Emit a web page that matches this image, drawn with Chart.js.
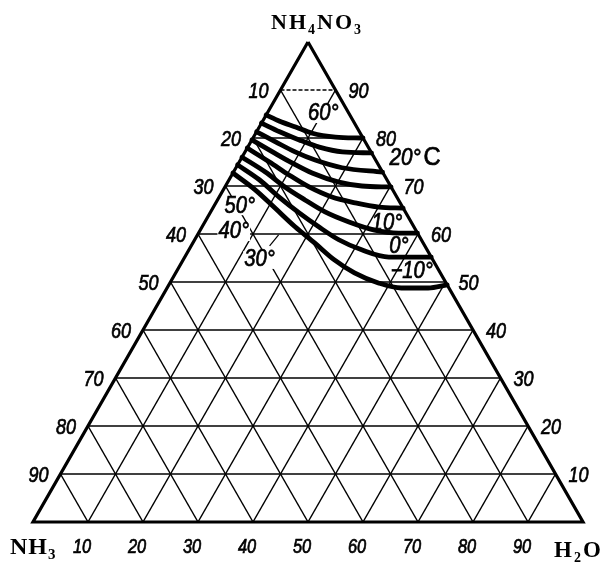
<!DOCTYPE html>
<html><head><meta charset="utf-8">
<script src="https://cdn.jsdelivr.net/npm/chart.js@4.4.1/dist/chart.umd.min.js"></script>
<style>html,body{margin:0;padding:0;background:#fff}#wrap{width:609px;height:562px;position:relative}</style>
</head><body><div id="wrap"><canvas id="c"></canvas></div>
<script>
// ---- data (percent by mass) ----
const tickValues = [10, 20, 30, 40, 50, 60, 70, 80, 90];
const isotherms = ['60°', '50°', '40°', '30°', '20°', '10°', '0°', '−10°'];
// each isotherm: NH4NO3 % and H2O % (NH3 % = 100 - both)
const nh4no3_60 = [84.8, 83.5, 82.3, 81.0, 80.2, 80.0];
const h2o_60    = [0, 3.1, 6.6, 10.3, 14.9, 20.0];
const nh4no3_50 = [83.1, 81.3, 79.6, 78.1, 77.1, 76.9];
const h2o_50    = [0, 4.2, 8.6, 13.0, 17.7, 23.1];
const nh4no3_40 = [81.3, 79.2, 77.1, 75.4, 73.8, 72.9];
const h2o_40    = [0, 4.5, 9.1, 13.6, 19.3, 27.1];
const nh4no3_30 = [79.6, 77.1, 74.8, 72.7, 70.8, 70.0, 69.8];
const h2o_30    = [0, 5.0, 9.7, 14.4, 20.2, 24.8, 30.2];
const nh4no3_20 = [77.9, 75.0, 72.3, 69.8, 67.7, 66.5, 65.6, 65.4];
const h2o_20    = [0, 5.5, 10.4, 15.3, 20.5, 25.3, 30.1, 34.6];
const nh4no3_10 = [76.0, 72.9, 69.8, 67.1, 64.6, 62.5, 60.8, 60.2, 60.2];
const h2o_10    = [0, 5.8, 10.9, 15.9, 20.8, 26.2, 31.7, 36.4, 39.8];
const nh4no3_0  = [74.4, 71.3, 67.7, 64.4, 61.5, 58.8, 56.7, 55.2, 55.2];
const h2o_0     = [0, 5.5, 10.9, 16.2, 21.2, 26.2, 31.4, 37.1, 44.8];
const nh4no3_m10 = [72.7, 69.2, 65.4, 61.5, 58.1, 54.6, 51.9, 49.8, 48.75, 48.75, 49.4];
const h2o_m10    = [0, 5.8, 11.3, 16.9, 22.2, 27.5, 32.5, 37.9, 42.6, 47.5, 50.6];
// isotherm label anchors (ternary composition of the label centre)
const isoLabelNH4NO3 = [85.0, 65.8, 60.4, 54.6, 75.8, 62.1, 57.3, 52.1];
const isoLabelH2O    = [10.3, 4.7, 6.3, 13.9, 31.4, 33.3, 37.9, 42.8];

const curvesA = [nh4no3_60, nh4no3_50, nh4no3_40, nh4no3_30, nh4no3_20, nh4no3_10, nh4no3_0, nh4no3_m10];
const curvesC = [h2o_60, h2o_50, h2o_40, h2o_30, h2o_20, h2o_10, h2o_0, h2o_m10];

const H = Math.sqrt(3) / 2;
function tern(a, c) { return { x: c / 100 + a / 200, y: a / 100 * H }; }

const datasets = [];
curvesA.forEach((arr, i) => {
  datasets.push({
    data: arr.map((a, j) => tern(a, curvesC[i][j])),
    showLine: true, borderColor: '#000', borderWidth: 4.8, pointRadius: 0,
    tension: 0.4, cubicInterpolationMode: 'monotone', clip: false, borderCapStyle: 'round'
  });
});
// triangle frame
datasets.push({
  data: [tern(100, 0), tern(0, 0), tern(0, 100), tern(100, 0)],
  showLine: true, borderColor: '#000', borderWidth: 3.2, pointRadius: 0, clip: false,
  borderJoinStyle: 'miter'
});
// grid
tickValues.forEach(v => {
  datasets.push({ data: [tern(v, 0), tern(v, 100 - v)], showLine: true, borderColor: '#000',
    borderWidth: 1.5, pointRadius: 0, clip: false, borderDash: v === 90 ? [4, 2] : [] });
  datasets.push({ data: [tern(0, v), tern(100 - v, v)], showLine: true, borderColor: '#000',
    borderWidth: 1.5, pointRadius: 0, clip: false });
  datasets.push({ data: [tern(100 - v, 0), tern(0, 100 - v)], showLine: true, borderColor: '#000',
    borderWidth: 1.5, pointRadius: 0, clip: false });
});

function txt(ctx, s, x, y, font, sx, bg) {
  ctx.save();
  ctx.font = font; ctx.textAlign = 'center'; ctx.textBaseline = 'middle';
  if (bg) {
    const w = ctx.measureText(s).width * sx;
    ctx.fillStyle = '#fff';
    ctx.fillRect(x - w / 2 - 1, y - 9, w + 2, 18);
  }
  ctx.translate(x, y); ctx.scale(sx, 1);
  ctx.fillStyle = '#000'; ctx.strokeStyle = '#000'; ctx.lineWidth = 0.7;
  ctx.fillText(s, 0, 0);
  ctx.strokeText(s, 0, 0);
  ctx.restore();
}
function chem(ctx, parts, x, y, size, spacing) {
  ctx.save();
  ctx.fillStyle = '#000'; ctx.textBaseline = 'alphabetic'; ctx.textAlign = 'left';
  let cx = x;
  parts.forEach(([s, sub]) => {
    for (const ch of s) {
      ctx.font = 'bold ' + (sub ? Math.round(size * 0.62) : size) + 'px "Liberation Serif"';
      ctx.fillText(ch, cx, sub ? y + size * 0.22 : y);
      cx += ctx.measureText(ch).width + spacing;
    }
  });
  ctx.restore();
}

const labels = {
  id: 'labels',
  afterDatasetsDraw(chart) {
    const { ctx, scales: { x, y } } = chart;
    const px = (a, c) => { const t = tern(a, c); return [x.getPixelForValue(t.x), y.getPixelForValue(t.y)]; };
    const tf = 'italic 22px "Liberation Sans"';
    tickValues.forEach(v => {
      let [X, Y] = px(0, v); txt(ctx, String(v), X - 6, Y + 25, 'italic 20px "Liberation Sans"', 0.82);
      [X, Y] = px(100 - v, 0); txt(ctx, String(v), X - 22, Y + 2, tf, 0.82);
      [X, Y] = px(v, 100 - v); txt(ctx, String(v), X + 23, Y + 2, tf, 0.82);
    });
    isotherms.forEach((s, i) => {
      const [X, Y] = px(isoLabelNH4NO3[i], isoLabelH2O[i]);
      if (s === '20°') {
        txt(ctx, '20°', X - 9, Y, 'italic 23px "Liberation Sans"', 0.9, false);
        txt(ctx, 'C', X + 18, Y, '25px "Liberation Sans"', 0.95, false);
      } else {
        const bg = i >= 0 && i <= 3;
        txt(ctx, s, X, Y, 'italic 23px "Liberation Sans"', 0.88, bg);
      }
    });
    // leader line of the 30° label
    const [LX, LY] = px(isoLabelNH4NO3[3], isoLabelH2O[3]);
    ctx.save(); ctx.strokeStyle = '#000'; ctx.lineWidth = 1.2;
    ctx.beginPath(); ctx.moveTo(LX + 10, LY - 14); ctx.lineTo(LX + 19, LY - 25); ctx.stroke();
    ctx.restore();
    // vertex names
    chem(ctx, [['NH', 0], ['4', 1], ['NO', 0], ['3', 1]], 271, 29, 22, 2);
    chem(ctx, [['NH', 0], ['3', 1]], 10, 554, 24, 1);
    chem(ctx, [['H', 0], ['2', 1], ['O', 0]], 554, 557, 23, 2);
  }
};

new Chart(document.getElementById('c'), {
  type: 'scatter',
  data: { datasets },
  options: {
    responsive: true, maintainAspectRatio: false, animation: false,
    layout: { padding: { left: 33, right: 26, top: 42, bottom: 40 } },
    plugins: { legend: { display: false }, tooltip: { enabled: false } },
    scales: {
      x: { type: 'linear', min: 0, max: 1, display: false },
      y: { type: 'linear', min: 0, max: H, display: false }
    }
  },
  plugins: [labels]
});
</script></body></html>
